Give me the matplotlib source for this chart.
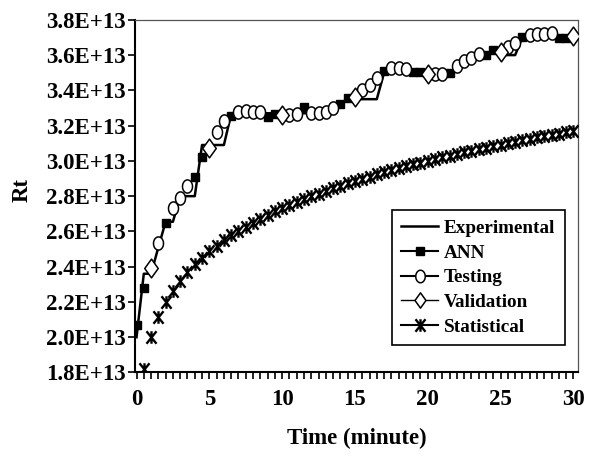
import numpy as np
import matplotlib
matplotlib.use("Agg")
import matplotlib.pyplot as plt
from matplotlib.path import Path
from matplotlib.lines import Line2D
from matplotlib.ticker import MultipleLocator, FuncFormatter

plt.rcParams['font.family'] = ['Liberation Serif', 'DejaVu Serif']
plt.rcParams['font.weight'] = 'bold'

SCALE = 1e13

# Time grid (minutes) for experimental and model series
time = [0, 0.5, 1, 1.5, 2, 2.5, 3, 3.5, 4, 4.5, 5, 5.5, 6, 6.5, 7, 7.5, 8, 8.5, 9, 9.5,
        10, 10.5, 11, 11.5, 12, 12.5, 13, 13.5, 14, 14.5, 15, 15.5, 16, 16.5, 17, 17.5,
        18, 18.5, 19, 19.5, 20, 20.5, 21, 21.5, 22, 22.5, 23, 23.5, 24, 24.5, 25, 25.5,
        26, 26.5, 27, 27.5, 28, 28.5, 29, 29.5, 30]

# Experimental Rt (x 1E+13)
experimental = [2.00, 2.36, 2.36, 2.51, 2.655, 2.655, 2.80, 2.80, 2.80, 3.09, 3.09, 3.09,
                3.09, 3.265, 3.27, 3.27, 3.27, 3.27, 3.27, 3.27, 3.27, 3.27, 3.27, 3.27,
                3.27, 3.27, 3.27, 3.28, 3.32, 3.35, 3.35, 3.35, 3.35, 3.35, 3.50, 3.51,
                3.51, 3.51, 3.51, 3.51, 3.50, 3.50, 3.50, 3.50, 3.52, 3.55, 3.57, 3.59,
                3.60, 3.62, 3.60, 3.60, 3.60, 3.70, 3.70, 3.70, 3.70, 3.70, 3.70, 3.70, 3.70]

# ANN (training) predictions
ann_t = [0, 0.5, 2, 4, 4.5, 6.5, 9, 9.5, 11.5, 14, 14.5, 17, 19, 19.5, 21.5, 24, 24.5,
         26.5, 29, 29.5]
ann_v = [2.07, 2.28, 2.645, 2.91, 3.02, 3.255, 3.25, 3.265, 3.305, 3.325, 3.355, 3.51,
         3.505, 3.505, 3.50, 3.60, 3.63, 3.70, 3.695, 3.695]

# Testing predictions
test_t = [1.5, 2.5, 3, 3.5, 5.5, 6, 7, 7.5, 8, 8.5, 10.5, 11, 12, 12.5, 13, 13.5, 15.5,
          16, 16.5, 17.5, 18, 18.5, 20.5, 21, 22, 22.5, 23, 23.5, 25.5, 26, 27, 27.5,
          28, 28.5]
test_v = [2.535, 2.73, 2.79, 2.86, 3.165, 3.225, 3.275, 3.285, 3.275, 3.275, 3.26, 3.265,
          3.27, 3.27, 3.275, 3.30, 3.40, 3.43, 3.47, 3.525, 3.525, 3.52, 3.49, 3.495,
          3.54, 3.565, 3.585, 3.605, 3.645, 3.67, 3.715, 3.72, 3.72, 3.725]

# Validation predictions
val_t = [1, 5, 10, 15, 20, 25, 30]
val_v = [2.39, 3.075, 3.26, 3.36, 3.49, 3.62, 3.71]

# Statistical model
stat_t = [0.5, 1, 1.5, 2, 2.5, 3, 3.5, 4, 4.5, 5, 5.5, 6, 6.5, 7, 7.5, 8, 8.5, 9, 9.5,
          10, 10.5, 11, 11.5, 12, 12.5, 13, 13.5, 14, 14.5, 15, 15.5, 16, 16.5, 17, 17.5,
          18, 18.5, 19, 19.5, 20, 20.5, 21, 21.5, 22, 22.5, 23, 23.5, 24, 24.5, 25, 25.5,
          26, 26.5, 27, 27.5, 28, 28.5, 29, 29.5, 30]
stat_v = [1.821, 2.000, 2.113, 2.197, 2.264, 2.321, 2.370, 2.413, 2.452, 2.487, 2.519,
          2.549, 2.577, 2.603, 2.627, 2.650, 2.672, 2.693, 2.713, 2.732, 2.750, 2.767,
          2.784, 2.800, 2.815, 2.830, 2.845, 2.859, 2.873, 2.886, 2.899, 2.911, 2.923,
          2.935, 2.947, 2.958, 2.969, 2.980, 2.990, 3.000, 3.010, 3.020, 3.030, 3.039,
          3.049, 3.058, 3.067, 3.075, 3.084, 3.092, 3.101, 3.109, 3.117, 3.125, 3.133,
          3.140, 3.148, 3.155, 3.163, 3.170]

y_ticks = [1.8, 2.0, 2.2, 2.4, 2.6, 2.8, 3.0, 3.2, 3.4, 3.6, 3.8]
x_ticks = [0, 5, 10, 15, 20, 25, 30]

# custom marker shapes
th = np.linspace(0, 2 * np.pi, 40)
ellipse = Path(np.column_stack([0.38 * np.cos(th), 0.5 * np.sin(th)]), closed=True)
diamond = Path([(0, 0.5), (0.36, 0), (0, -0.5), (-0.36, 0), (0, 0.5)], closed=True)
star = Path([(-0.4, -0.5), (0.4, 0.5), (-0.4, 0.5), (0.4, -0.5), (0, -0.5), (0, 0.5)],
            [Path.MOVETO, Path.LINETO, Path.MOVETO, Path.LINETO, Path.MOVETO, Path.LINETO])

fig = plt.figure(figsize=(5.95, 4.61), dpi=100)
ax = fig.add_axes([0.227, 0.192, 0.744, 0.765])

sc = lambda v: np.array(v) * SCALE

ax.plot(time, sc(experimental), color='black', lw=1.8, zorder=2)
ax.plot(stat_t, sc(stat_v), ls='none', marker=star, ms=9, mec='black', mfc='none',
        mew=1.7, zorder=3)
ax.plot(ann_t, sc(ann_v), ls='none', marker='s', ms=6, mfc='black', mec='black', zorder=4)
ax.plot(test_t, sc(test_v), ls='none', marker=ellipse, ms=9.5, mfc='white', mec='black',
        mew=1.1, zorder=4)
ax.plot(val_t, sc(val_v), ls='none', marker=diamond, ms=13.5, mfc='white', mec='black',
        mew=1.1, zorder=4)

ax.set_xlim(-0.1, 30.3)
ax.set_ylim(1.8 * SCALE, 3.8 * SCALE)
ax.set_xticks(x_ticks)
ax.xaxis.set_minor_locator(MultipleLocator(0.5))
ax.set_yticks([v * SCALE for v in y_ticks])
ax.yaxis.set_major_formatter(FuncFormatter(lambda v, p: f"{v / SCALE:.1f}E+13"))

ax.tick_params(axis='both', which='both', direction='out', length=5, width=1.2,
               labelsize=16.5, color='black')
ax.tick_params(axis='x', which='major', pad=7)
ax.tick_params(axis='y', which='major', pad=1.5)

for s in ['left', 'bottom']:
    ax.spines[s].set_linewidth(1.5)
    ax.spines[s].set_color('black')
for s in ['top', 'right']:
    ax.spines[s].set_linewidth(0.9)
    ax.spines[s].set_color('#555555')

fig.text(357 / 595, 1 - 438 / 461, 'Time (minute)', ha='center', va='center',
         fontsize=16.5, fontweight='bold')
fig.text(22 / 595, 1 - 190 / 461, 'Rt', ha='center', va='center', rotation=90,
         fontsize=16.5, fontweight='bold')

handles = [
    Line2D([], [], color='black', lw=1.8),
    Line2D([], [], color='black', lw=1.5, marker='s', ms=6, mfc='black'),
    Line2D([], [], color='black', lw=1.5, marker=ellipse, ms=9, mfc='white', mew=1.1),
    Line2D([], [], color='black', lw=1.0, marker=diamond, ms=11, mfc='white', mew=1.1),
    Line2D([], [], color='black', lw=1.5, marker=star, ms=9, mfc='none', mew=1.7),
]
labels = ['Experimental', 'ANN', 'Testing', 'Validation', 'Statistical']
leg = ax.legend(handles, labels, loc='upper left', bbox_to_anchor=(0.58, 0.461),
                prop={'family': 'Liberation Serif', 'weight': 'bold', 'size': 13.8},
                frameon=True, fancybox=False, shadow=False, framealpha=1,
                edgecolor='black', handlelength=1.9, handletextpad=0.3,
                labelspacing=0.38, borderpad=0.5, borderaxespad=0)
leg.get_frame().set_linewidth(1.2)

fig.savefig('out.png', dpi=100)
